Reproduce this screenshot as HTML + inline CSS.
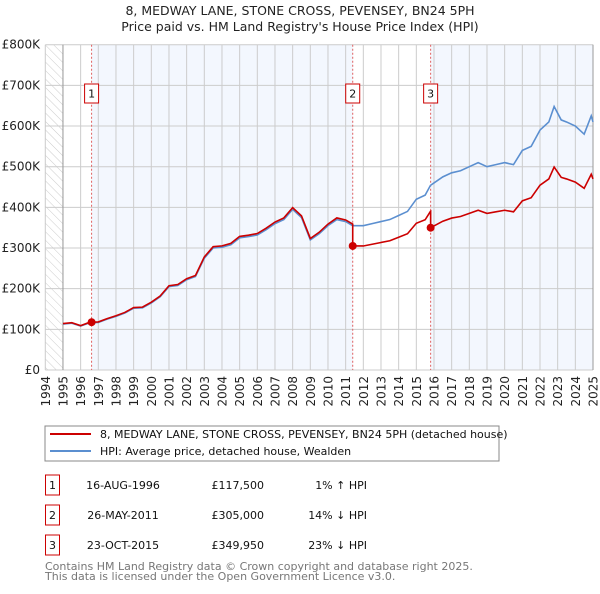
<!DOCTYPE html>
<html><head><meta charset="utf-8"><style>
body{margin:0;background:#fff;width:600px;height:590px;overflow:hidden;font-family:"DejaVu Sans","Liberation Sans",sans-serif}
</style></head><body>
<svg id="c" width="600" height="590" xmlns="http://www.w3.org/2000/svg" font-family="DejaVu Sans, Liberation Sans, sans-serif">
<defs><pattern id="hatch" width="6" height="6" patternUnits="userSpaceOnUse" patternTransform="rotate(-45)"><line x1="0" y1="0" x2="0" y2="6" stroke="#ccc" stroke-width="1"/></pattern></defs>
<text x="300" y="15" text-anchor="middle" font-size="12.5" fill="#222">8, MEDWAY LANE, STONE CROSS, PEVENSEY, BN24 5PH</text>
<text x="300" y="31" text-anchor="middle" font-size="12.5" fill="#222">Price paid vs. HM Land Registry's House Price Index (HPI)</text>
<g id="plot"></g>
<rect x="45" y="426" width="454" height="35" fill="#fff" stroke="#888"/>
<line x1="50" y1="434" x2="91" y2="434" stroke="#cc0000" stroke-width="2"/>
<text x="100" y="438" font-size="11" fill="#111">8, MEDWAY LANE, STONE CROSS, PEVENSEY, BN24 5PH (detached house)</text>
<line x1="50" y1="451" x2="91" y2="451" stroke="#5b8fd0" stroke-width="2"/>
<text x="100" y="455" font-size="11" fill="#111">HPI: Average price, detached house, Wealden</text>
<g font-size="11" fill="#111">
<rect x="45.5" y="475" width="14" height="20" fill="#fff" stroke="#cc0000"/><text x="52.5" y="489" text-anchor="middle">1</text>
<text x="123" y="489" text-anchor="middle">16-AUG-1996</text><text x="264" y="489" text-anchor="end">£117,500</text><text x="367" y="489" text-anchor="end">1% ↑ HPI</text>
<rect x="45.5" y="505" width="14" height="20" fill="#fff" stroke="#cc0000"/><text x="52.5" y="519" text-anchor="middle">2</text>
<text x="123" y="519" text-anchor="middle">26-MAY-2011</text><text x="264" y="519" text-anchor="end">£305,000</text><text x="367" y="519" text-anchor="end">14% ↓ HPI</text>
<rect x="45.5" y="535" width="14" height="20" fill="#fff" stroke="#cc0000"/><text x="52.5" y="549" text-anchor="middle">3</text>
<text x="123" y="549" text-anchor="middle">23-OCT-2015</text><text x="264" y="549" text-anchor="end">£349,950</text><text x="367" y="549" text-anchor="end">23% ↓ HPI</text>
</g>
<text x="45" y="570" font-size="11" fill="#777">Contains HM Land Registry data © Crown copyright and database right 2025.</text>
<text x="45" y="580" font-size="11" fill="#777">This data is licensed under the Open Government Licence v3.0.</text>
</svg>
<script>
const hpiYears=[1995,1995.5,1996,1996.5,1997,1997.5,1998,1998.5,1999,1999.5,2000,2000.5,2001,2001.5,2002,2002.5,2003,2003.5,2004,2004.5,2005,2005.5,2006,2006.5,2007,2007.5,2008,2008.5,2009,2009.5,2010,2010.5,2011,2011.4,2012,2012.5,2013,2013.5,2014,2014.5,2015,2015.5,2015.8,2016,2016.5,2017,2017.5,2018,2018.5,2019,2019.5,2020,2020.5,2021,2021.5,2022,2022.5,2022.8,2023.2,2023.5,2024,2024.5,2024.9,2025];
const hpiValues=[113,115,108,116,117,125,132,140,152,153,165,180,205,208,222,230,275,300,302,308,325,328,332,345,360,370,395,375,320,335,355,370,365,355,355,360,365,370,380,390,420,430,454,460,475,485,490,500,510,500,505,510,505,540,550,590,610,648,615,610,600,580,625,610];
const saleYears=[1996.62,2011.4,2015.81];
const saleValues=[117.5,305,349.95];
const saleLabels=["1","2","3"];
const yTicks=[0,100,200,300,400,500,600,700,800];
const yTickLabels=["£0","£100K","£200K","£300K","£400K","£500K","£600K","£700K","£800K"];
const xTicks=[1994,1995,1996,1997,1998,1999,2000,2001,2002,2003,2004,2005,2006,2007,2008,2009,2010,2011,2012,2013,2014,2015,2016,2017,2018,2019,2020,2021,2022,2023,2024,2025];

const X0=45.3,X1=593,Y0=370,Y1=44.7;
const x=v=>X0+(v-1994)/(2025-1994)*(X1-X0);
const y=v=>Y0-v/800*(Y0-Y1);
const NS="http://www.w3.org/2000/svg";
const g=document.getElementById('plot');
function mk(t,a){const e=document.createElementNS(NS,t);for(const k in a)e.setAttribute(k,a[k]);g.appendChild(e);return e;}
let e;
e=mk('rect',{x:X0,y:Y1,width:X1-X0,height:Y0-Y1,fill:'#fff'});


e=mk('rect',{x:X0,y:Y1,width:x(1995)-X0,height:Y0-Y1,fill:'url(#hatch)'});


const bands=[[saleYears[0],saleYears[1]],[saleYears[2],2025]];
bands.forEach(b=>{
e=mk('rect',{x:x(b[0]),y:Y1,width:x(b[1])-x(b[0]),height:Y0-Y1,fill:'#eef3fd',opacity:0.7});


});
yTicks.forEach((t,i)=>{
e=mk('line',{x1:X0,x2:X1,y1:y(t),y2:y(t),stroke:'#ccc'});


e=mk('text',{x:40,y:y(t)+4,'text-anchor':'end','font-size':12,fill:'#222'});
e.textContent=yTickLabels[i];


});
xTicks.forEach(t=>{
e=mk('line',{x1:x(t),x2:x(t),y1:Y1,y2:Y0,stroke:'#ccc'});


e=mk('text',{x:0,y:0,'text-anchor':'end','font-size':12,fill:'#222',transform:`translate(${x(t)+4.5},376) rotate(-90)`});
e.textContent=String(t);


});
e=mk('line',{x1:x(1995),x2:x(1995),y1:Y1,y2:Y0,stroke:'#999'});


e=mk('line',{x1:X1,x2:X1,y1:Y1,y2:Y0,stroke:'#999'});


saleYears.forEach((s,i)=>{
e=mk('line',{x1:x(s),x2:x(s),y1:Y1,y2:Y0,stroke:'#e06060','stroke-dasharray':'2,2'});


e=mk('rect',{x:x(s)-7,y:84,width:14,height:19,fill:'#fff',stroke:'#cc0000'});


e=mk('text',{x:x(s),y:97.5,'text-anchor':'middle','font-size':11,fill:'#111'});
e.textContent=saleLabels[i];


});
e=mk('polyline',{points:hpiYears.map((t,i)=>x(t)+','+y(hpiValues[i])).join(' '),fill:'none',stroke:'#5b8fd0','stroke-width':1.6});


const hpiAt=s=>{for(let j=1;j<hpiYears.length;j++)if(hpiYears[j]>=s){const a=hpiYears[j-1],b=hpiYears[j];return hpiValues[j-1]+(hpiValues[j]-hpiValues[j-1])*(s-a)/(b-a);}return hpiValues[hpiValues.length-1];};
const redPts=[];
hpiYears.forEach((t,i)=>{
let k=0;for(let j=0;j<saleYears.length;j++)if(t>=saleYears[j]-0.001)k=j;
const r=saleValues[k]/hpiAt(saleYears[k]);
if(i>0&&hpiYears[i-1]<saleYears[k]&&t>=saleYears[k]&&k>0){redPts.push([saleYears[k],saleValues[k-1]/hpiAt(saleYears[k-1])*hpiAt(saleYears[k])]);redPts.push([saleYears[k],saleValues[k]]);}
redPts.push([t,hpiValues[i]*r]);
});
e=mk('polyline',{points:redPts.map(p=>x(p[0])+','+y(p[1])).join(' '),fill:'none',stroke:'#cc0000','stroke-width':1.6});


saleYears.forEach((s,i)=>{
e=mk('circle',{cx:x(s),cy:y(saleValues[i]),r:4,fill:'#cc0000'});


});
</script>
</body></html>
